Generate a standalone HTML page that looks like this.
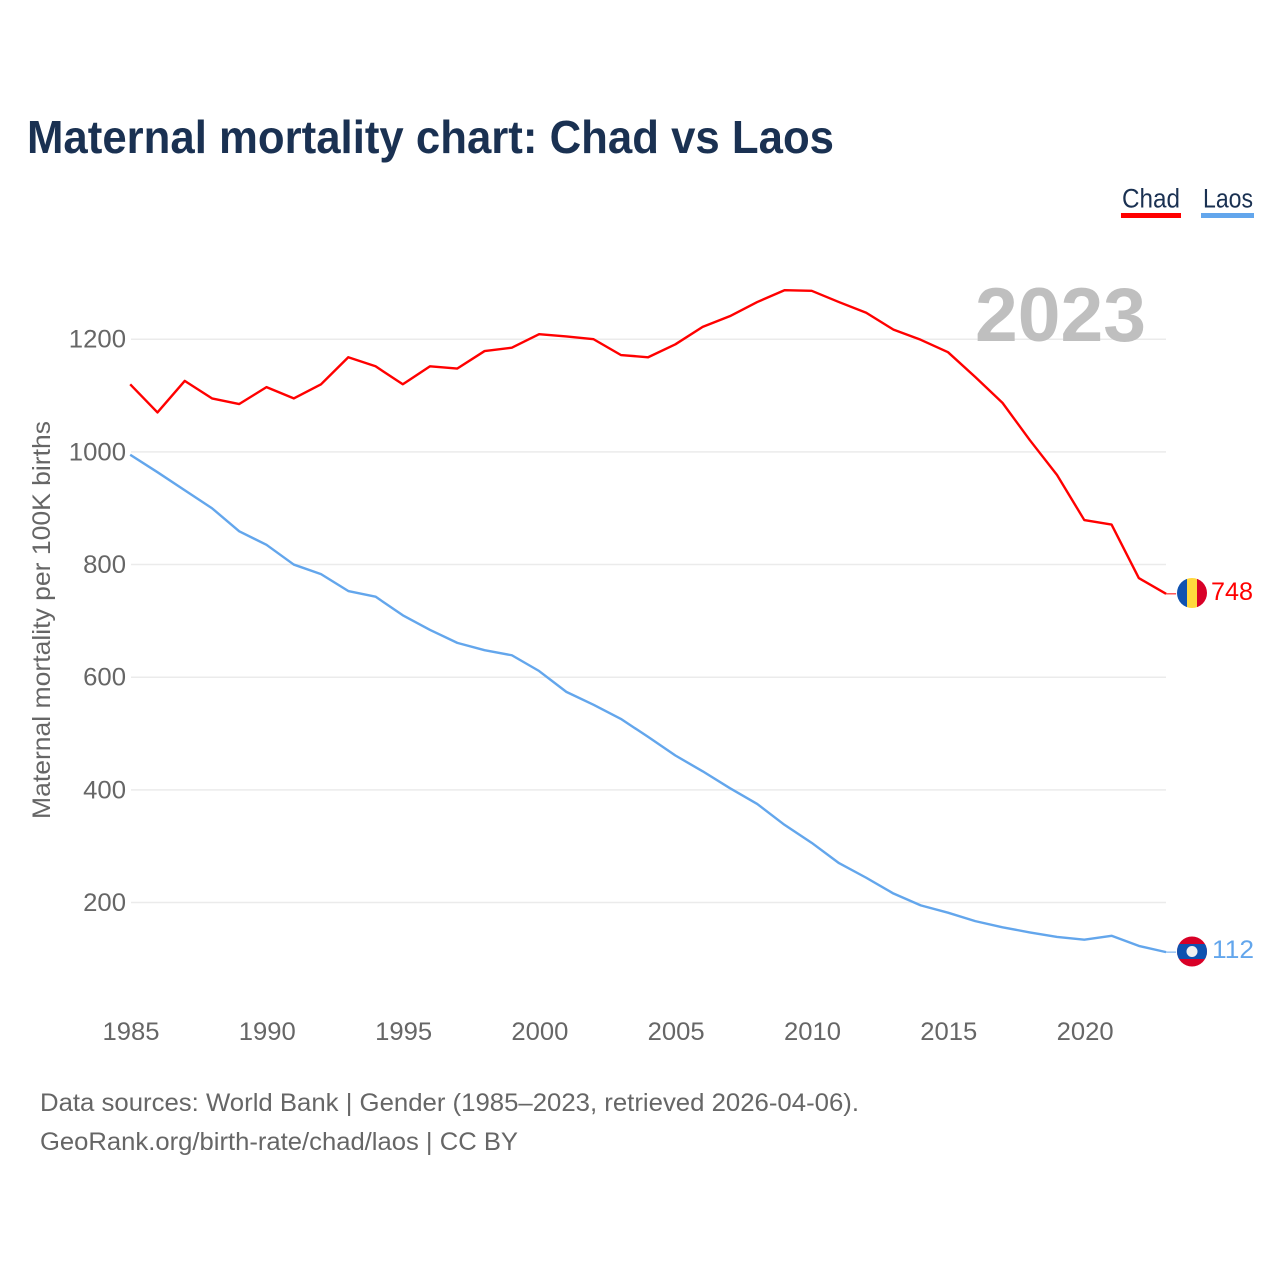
<!DOCTYPE html>
<html lang="en">
<head>
<meta charset="utf-8">
<title>Maternal mortality chart: Chad vs Laos</title>
<style>
html,body{margin:0;padding:0;background:#fff;width:1280px;height:1280px;overflow:hidden}
svg{display:block}
text{font-family:"Liberation Sans",sans-serif}
</style>
</head>
<body>
<svg id="chart" xmlns="http://www.w3.org/2000/svg" width="1280" height="1280" viewBox="0 0 1280 1280">
  <text x="27" y="153" font-size="46" font-weight="700" fill="#1a3152" textLength="807" lengthAdjust="spacingAndGlyphs">Maternal mortality chart: Chad vs Laos</text>

  <g id="legend">
    <g>
      <text x="1122" y="207.5" font-size="27" fill="#1a3152" textLength="58" lengthAdjust="spacingAndGlyphs">Chad</text>
      <rect x="1121" y="213" width="60" height="5" fill="#ff0000"/>
    </g>
    <g>
      <text x="1203" y="207.5" font-size="27" fill="#1a3152" textLength="50" lengthAdjust="spacingAndGlyphs">Laos</text>
      <rect x="1201" y="213" width="53" height="5" fill="#63a6ec"/>
    </g>
  </g>

  <g id="grid"></g>

  <text x="975" y="341" font-size="76" font-weight="700" fill="#bfbfbf" textLength="171" lengthAdjust="spacingAndGlyphs">2023</text>

  <g id="y-ticks"></g>
  <g id="x-ticks"></g>

  <text transform="translate(50 819) rotate(-90)" x="0" y="0" font-size="25" fill="#666666" textLength="398" lengthAdjust="spacingAndGlyphs">Maternal mortality per 100K births</text>

  <g id="series"></g>

  <defs>
    <clipPath id="clip-chad"><circle cx="1192" cy="593" r="15"/></clipPath>
    <clipPath id="clip-laos"><circle cx="1192" cy="951.5" r="15"/></clipPath>
  </defs>

  <g clip-path="url(#clip-chad)">
    <rect x="1177" y="578" width="10" height="30" fill="#0f52b0"/>
    <rect x="1187" y="578" width="10" height="30" fill="#ffd83d"/>
    <rect x="1197" y="578" width="10" height="30" fill="#d80027"/>
  </g>
  <g clip-path="url(#clip-laos)">
    <rect x="1177" y="936.5" width="30" height="30" fill="#d80027"/>
    <rect x="1177" y="944" width="30" height="15" fill="#0f52b0"/>
    <circle cx="1192" cy="951.5" r="5.5" fill="#f0f0f0"/>
  </g>

  <text x="1211" y="600" font-size="25" fill="#ff0000" textLength="42" lengthAdjust="spacingAndGlyphs">748</text>
  <text x="1212" y="958" font-size="25" fill="#63a6ec" textLength="42" lengthAdjust="spacingAndGlyphs">112</text>

  <text x="40" y="1111" font-size="25" fill="#666666" textLength="819" lengthAdjust="spacingAndGlyphs">Data sources: World Bank | Gender (1985–2023, retrieved 2026-04-06).</text>
  <text x="40" y="1150" font-size="25" fill="#666666" textLength="478" lengthAdjust="spacingAndGlyphs">GeoRank.org/birth-rate/chad/laos | CC BY</text>
</svg>

<script>
const years = [1985,1986,1987,1988,1989,1990,1991,1992,1993,1994,1995,1996,1997,1998,1999,2000,2001,2002,2003,2004,2005,2006,2007,2008,2009,2010,2011,2012,2013,2014,2015,2016,2017,2018,2019,2020,2021,2022,2023];
const chadValues = [1120,1070,1126,1095,1085,1115,1095,1120,1168,1152,1120,1152,1148,1179,1185,1209,1205,1200,1172,1168,1191,1222,1241,1266,1287,1286,1266,1247,1217,1199,1177,1133,1087,1021,959,879,871,776,748];
const laosValues = [995,964,932,900,859,835,800,783,753,743,710,684,661,648,639,611,574,551,526,494,461,433,403,375,338,306,270,244,216,195,182,167,156,147,139,134,141,123,112];
const yTickValues = [200,400,600,800,1000,1200];
const xTickValues = [1985,1990,1995,2000,2005,2010,2015,2020];

const NS = 'http://www.w3.org/2000/svg';
function xScale(year) { return 131 + (year - 1985) * 27.26; }
function yScale(value) { return 1015.2 - value * 0.5633; }
const LINE_SHIFT = -0.8;

const grid = document.getElementById('grid');
const yTicks = document.getElementById('y-ticks');
const xTicks = document.getElementById('x-ticks');
const seriesGroup = document.getElementById('series');

yTickValues.forEach(function (v) {
  const line = document.createElementNS(NS, 'line');
  
  
  line.setAttribute('x1', 131);
  line.setAttribute('x2', 1166);
  line.setAttribute('y1', yScale(v));
  line.setAttribute('y2', yScale(v));
  line.setAttribute('stroke', '#ebebeb');
  line.setAttribute('stroke-width', '1.5');
  grid.appendChild(line);

  const label = document.createElementNS(NS, 'text');
  
  
  label.setAttribute('x', 126);
  label.setAttribute('y', yScale(v) + 8.5);
  label.setAttribute('text-anchor', 'end');
  label.setAttribute('font-size', '25');
  label.setAttribute('fill', '#666666');
  label.setAttribute('textLength', String(v).length * 14.3);
  label.setAttribute('lengthAdjust', 'spacingAndGlyphs');
  label.textContent = v;
  yTicks.appendChild(label);
});

xTickValues.forEach(function (yr) {
  const label = document.createElementNS(NS, 'text');
  
  
  label.setAttribute('x', xScale(yr));
  label.setAttribute('y', 1040);
  label.setAttribute('text-anchor', 'middle');
  label.setAttribute('font-size', '25');
  label.setAttribute('fill', '#666666');
  label.setAttribute('textLength', 57);
  label.setAttribute('lengthAdjust', 'spacingAndGlyphs');
  label.textContent = yr;
  xTicks.appendChild(label);
});

function drawSeries(values, color, lineName, leaderName) {
  const pts = values.map(function (v, i) { return (xScale(years[i]) + LINE_SHIFT).toFixed(2) + ',' + yScale(v).toFixed(2); }).join(' ');
  const path = document.createElementNS(NS, 'polyline');
  
  
  path.setAttribute('points', pts);
  path.setAttribute('fill', 'none');
  path.setAttribute('stroke', color);
  path.setAttribute('stroke-width', '2.4');
  path.setAttribute('stroke-linejoin', 'round');
  seriesGroup.appendChild(path);

  const lastY = yScale(values[values.length - 1]);
  const lastX = xScale(years[years.length - 1]) + LINE_SHIFT;
  const leader = document.createElementNS(NS, 'line');
  
  
  leader.setAttribute('x1', lastX);
  leader.setAttribute('x2', lastX + 10);
  leader.setAttribute('y1', lastY);
  leader.setAttribute('y2', lastY);
  leader.setAttribute('stroke', color);
  leader.setAttribute('stroke-width', '1');
  seriesGroup.appendChild(leader);
}
drawSeries(chadValues, '#ff0000', 'chad-line', 'chad-leader-line');
drawSeries(laosValues, '#63a6ec', 'laos-line', 'laos-leader-line');
</script>
</body>
</html>
